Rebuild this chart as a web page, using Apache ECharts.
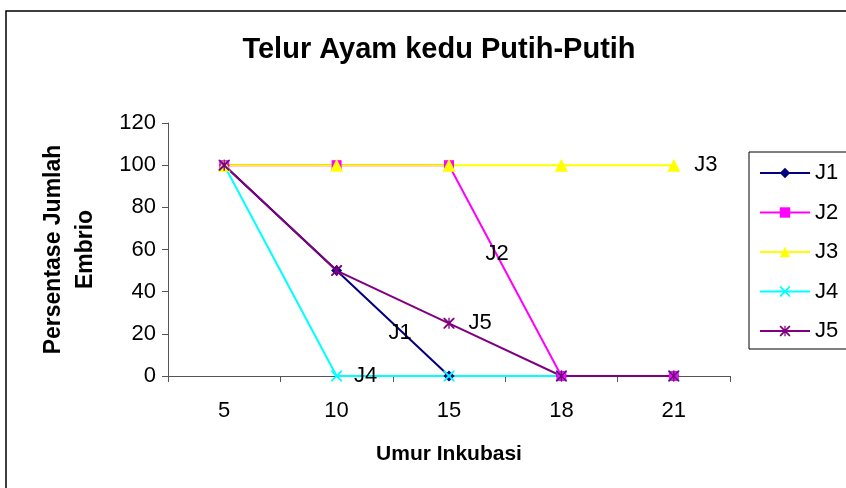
<!DOCTYPE html>
<html>
<head>
<meta charset="utf-8">
<script src="https://cdn.jsdelivr.net/npm/echarts@6/dist/echarts.min.js"></script>
<style>
	html, body { margin: 0; padding: 0; background: #fff; }
	#main { width: 846px; height: 488px; }
</style>
</head>
<body>
<div id="main"></div>
<script>
	var umur = ['5', '10', '15', '18', '21'];
	var j1 = [100, 50, 0, 0, 0];
	var j2 = [100, 100, 100, 0, 0];
	var j3 = [100, 100, 100, 100, 100];
	var j4 = [100, 0, 0, 0, 0];
	var j5 = [100, 50, 25, 0, 0];

	var fontName = '"Liberation Sans", Arial, sans-serif';
	// simbol silang dan bintang (garis tipis)
	var xPath = 'path://M0,0L1.2,0L5,3.8L8.8,0L10,0L10,1.2L6.2,5L10,8.8L10,10L8.8,10L5,6.2L1.2,10L0,10L0,8.8L3.8,5L0,1.2Z';
	var starPath = 'path://M0,0L1.2,0L5,3.8L8.8,0L10,0L10,1.2L6.2,5L10,8.8L10,10L8.8,10L5,6.2L1.2,10L0,10L0,8.8L3.8,5L0,1.2Z M4.4,0L5.6,0L5.6,10L4.4,10Z';

	function labelAt(data, idx, lab) {
		return data.map(function (v, i) {
			if (i !== idx) return v;
			return { value: v, label: Object.assign({ show: true, formatter: '{a}', color: '#000', fontSize: 22, fontFamily: fontName }, lab) };
		});
	}

	var myChart = echarts.init(document.getElementById('main'));
	var option = {
		animation: false,
		backgroundColor: '#fff',
		title: {
			text: 'Telur Ayam kedu Putih-Putih',
			left: 434,
			textAlign: 'center',
			top: 30,
			textStyle: { fontSize: 29, fontWeight: 'bold', color: '#000', fontFamily: fontName }
		},
		graphic: [{
			type: 'rect',
			shape: { x: 6, y: 11, width: 860, height: 500 },
			style: { fill: 'none', stroke: '#000', lineWidth: 1.5 },
			silent: true
		}],
		legend: {
			orient: 'vertical',
			left: 749,
			top: 152,
			padding: [10, 30, 7, 10],
			itemGap: 17.5,
			itemWidth: 50,
			itemHeight: 13,
			borderColor: '#000',
			borderWidth: 1,
			textStyle: { fontSize: 22, color: '#000', fontFamily: fontName },
			data: ['J1', 'J2', 'J3', 'J4', 'J5']
		},
		grid: { left: 168, right: 116, top: 123, bottom: 112 },
		xAxis: {
			type: 'category',
			data: umur,
			boundaryGap: true,
			name: 'Umur Inkubasi',
			nameLocation: 'middle',
			nameGap: 68,
			nameTextStyle: { fontSize: 21, fontWeight: 'bold', color: '#000', fontFamily: fontName },
			axisLine: { lineStyle: { color: '#555', width: 1 } },
			axisTick: { show: true, length: 6, interval: 0, lineStyle: { color: '#555' } },
			axisLabel: { fontSize: 22, color: '#000', margin: 24, fontFamily: fontName },
			splitLine: { show: false }
		},
		yAxis: {
			type: 'value',
			min: 0,
			max: 120,
			interval: 20,
			name: 'Persentase Jumlah\nEmbrio',
			nameLocation: 'middle',
			nameGap: 66,
			nameRotate: 90,
			nameTextStyle: { fontSize: 23, fontWeight: 'bold', color: '#000', fontFamily: fontName, lineHeight: 32 },
			axisLine: { show: true, lineStyle: { color: '#555', width: 1 } },
			axisTick: { show: true, length: 6, lineStyle: { color: '#555' } },
			axisLabel: { fontSize: 22, color: '#000', margin: 12, fontFamily: fontName },
			splitLine: { show: false }
		},
		series: [
			{
				name: 'J1', type: 'line', symbol: 'diamond', symbolSize: 11,
				lineStyle: { color: '#000080', width: 2 }, itemStyle: { color: '#000080' },
				data: labelAt(j1, 2, { position: 'inside', offset: [-49, -43] })
			},
			{
				name: 'J2', type: 'line', symbol: 'rect', symbolSize: 10,
				lineStyle: { color: '#ff00ff', width: 2 }, itemStyle: { color: '#ff00ff' },
				data: labelAt(j2, 2, { position: 'inside', offset: [48, 89] })
			},
			{
				name: 'J3', type: 'line', symbol: 'triangle', symbolSize: 13,
				lineStyle: { color: '#ffff00', width: 2 }, itemStyle: { color: '#ffff00' },
				data: labelAt(j3, 4, { position: 'right', distance: 14 })
			},
			{
				name: 'J4', type: 'line', symbol: xPath, symbolSize: 11,
				lineStyle: { color: '#00ffff', width: 2 }, itemStyle: { color: '#00ffff' },
				data: labelAt(j4, 1, { position: 'right', distance: 12 })
			},
			{
				name: 'J5', type: 'line', symbol: starPath, symbolSize: 11,
				lineStyle: { color: '#800080', width: 2 }, itemStyle: { color: '#800080' },
				data: labelAt(j5, 2, { position: 'right', distance: 14 })
			}
		]
	};
	myChart.setOption(option);
</script>
</body>
</html>
